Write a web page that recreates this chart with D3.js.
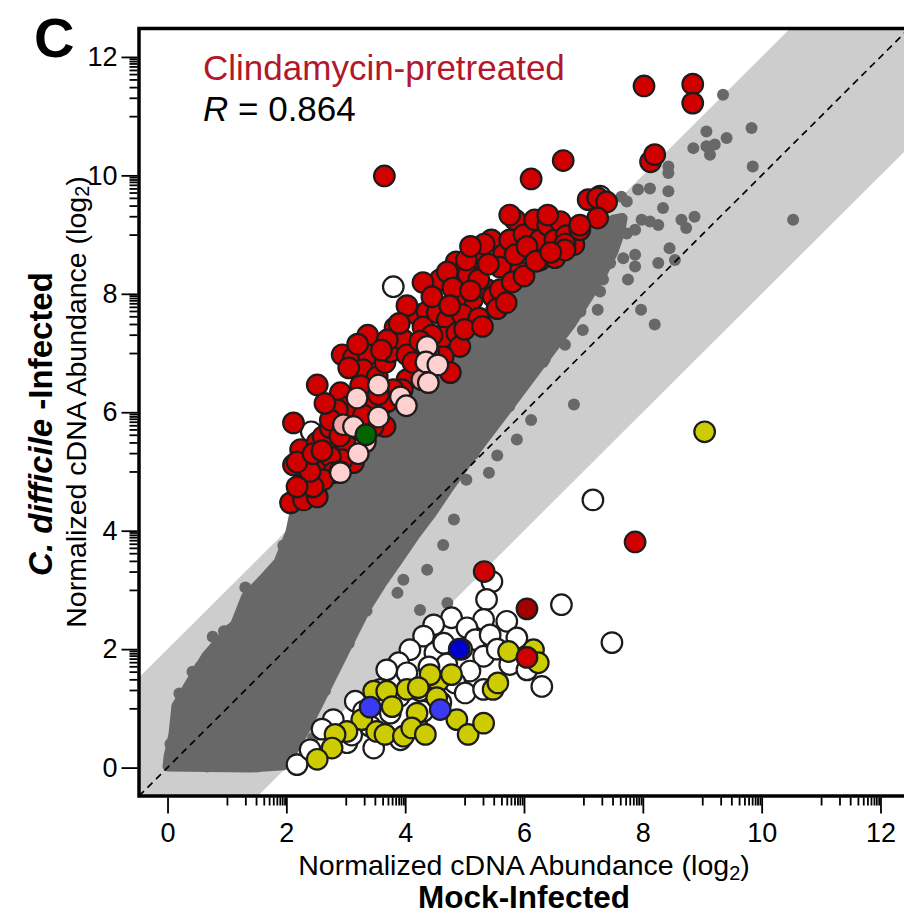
<!DOCTYPE html>
<html><head><meta charset="utf-8">
<script src="https://cdn.jsdelivr.net/npm/d3@7"></script>
<style>
body{margin:0;background:#fff;}
text{font-family:"Liberation Sans",Arial,Helvetica,sans-serif;}
</style></head>
<body><div id="chart"></div>
<script>
// ---------- DATA ----------
const majorTicks = [0, 2, 4, 6, 8, 10, 12];
const minorOffsets = [1, 1.31, 1.49, 1.62, 1.71, 1.78, 1.84, 1.89, 1.93, 1.97];
const rValue = "0.864";
const groupLabel = "Clindamycin-pretreated";
const bandHalfWidth = 2;

// outline of the dense grey cloud of genes (Mock, C. difficile)
const grayCloud = [
[0.0,0.02],[0.02,0.2],[0.1,0.56],[0.15,1.04],[0.4,1.46],[0.65,1.88],[0.87,2.13],[1.14,2.42],[1.32,2.88],[1.6,3.17],[1.87,3.47],[2.07,3.98],
[2.2,4.6],[2.6,4.95],[3.0,5.3],[3.4,5.75],[3.8,6.2],[4.2,6.6],[4.6,7.0],[5.0,7.35],[5.4,7.7],[5.8,8.1],[6.2,8.45],[6.6,8.75],[7.0,9.0],
[7.3,9.15],[7.5,9.25],[7.66,9.28],
[7.62,9.05],[7.5,8.7],[7.3,8.3],[7.05,7.9],[6.8,7.5],[6.5,7.1],[6.2,6.7],[5.9,6.3],[5.6,5.9],[5.3,5.5],[5.0,5.1],[4.72,4.7],[4.45,4.3],
[4.15,3.9],[3.88,3.5],[3.6,3.1],[3.35,2.7],[3.15,2.3],[2.95,1.9],[2.75,1.5],[2.55,1.1],[2.35,0.7],[2.12,0.3],[1.96,0.04],[1.39,0.0]
];
const grayPoints = [
[9.35,11.36],[9.07,10.74],[9.83,10.8],[9.41,10.63],[8.85,10.46],[9.07,10.49],[9.21,10.52],[9.13,10.35],[9.85,10.15],[8.43,10.15],[8.43,10.04],
[7.92,9.76],[8.12,9.78],[8.43,9.73],[7.64,9.64],[7.73,9.56],[8.34,9.45],[8.87,9.3],[8.65,9.25],[8.73,9.11],[7.98,9.25],[8.12,9.22],[8.26,9.16],
[7.87,9.08],[7.73,9.02],[10.53,9.25],[7.45,8.97],[8.45,8.77],[8.54,8.57],[8.26,8.52],[7.87,8.66],[7.87,8.46],[7.67,8.6],[7.16,8.63],[7.45,8.52],
[7.75,8.24],[7.33,8.24],[7.28,8.04],[6.72,8.12],[6.89,8.52],[8.2,7.48],[7.97,7.73],[6.32,6.85],[6.69,7.14],[6.99,7.39],[7.24,7.73],[6.84,6.13],
[6.12,5.87],[5.88,5.54],[5.55,5.27],[5.41,4.98],[5.03,4.86],[4.82,4.19],[4.64,3.76],[7.03,8.49],[6.47,7.9],[6.27,7.56],[5.93,7.22],
[1.31,3.04],[1.68,3.12],[1.06,2.33],[1.23,2.38],[0.76,2.21],[0.42,1.62],[0.17,1.03],[1.51,0.02],[0.67,0.02],
[2.3,0.8],[2.6,1.35],[2.85,1.8],[3.1,2.25],[3.35,2.65],[3.55,3.1],[3.8,3.5],[4.05,3.95],[4.35,4.35],[4.6,4.7],[4.95,5.3],
[4.37,3.34],[4.71,2.78],[3.97,3.17],[4.25,2.66],[3.87,2.95],
[0.05,0.4],[0.2,1.25],[0.55,1.7],[0.95,2.3],[1.45,3.0],[1.75,3.3],[1.95,3.75],
[2.45,0.5],[2.65,1.3],[3.05,2.1],[3.45,2.9],[3.95,3.7],[4.55,4.5],[5.15,5.3],[5.75,6.1],[6.35,6.9],[6.95,7.7],[7.4,8.5]
];
const redPoints = [
[2.07,4.47],[2.29,4.52],[2.52,4.57],[2.57,4.83],[2.35,4.86],[2.12,5.11],[2.32,5.06],[2.24,5.37],[2.52,5.16],[2.69,5.15],[2.79,5.33],[2.52,5.49],
[2.62,5.59],[2.74,5.74],[2.12,5.82],[2.52,6.46],[2.94,6.97],[3.37,7.3],[3.83,7.43],[4.2,7.65],[4.37,7.7],[3.13,6.92],[3.38,6.97],[3.29,6.72],
[3.53,6.6],[2.91,6.33],[3.04,6.09],[2.86,6.04],[2.74,5.87],[3.66,6.84],[3.75,7.02],[3.97,7.22],[3.7,7.22],[4.03,6.97],[4.2,6.72],[4.03,6.55],
[3.95,6.38],[3.8,6.38],[3.7,6.18],[3.41,6.09],[3.66,5.76],[3.46,5.76],[3.21,5.65],[3.03,5.59],[3.03,5.42],[3.13,5.15],[2.94,5.2],[2.74,5.25],
[2.79,4.98],[2.62,4.86],[2.45,4.74],[2.4,5.0],[2.18,5.16],[2.18,4.74],
[4.3,7.44],[4.54,7.68],[4.71,7.56],[4.64,7.27],[4.87,7.34],[4.92,7.11],[4.64,6.94],[4.76,6.67],[4.13,6.84],
[4.59,8.24],[4.86,8.54],[5.06,8.32],[5.23,8.61],[5.45,8.91],[5.65,8.66],[5.76,8.91],[5.85,9.25],[6.0,9.0],[6.18,9.25],[6.27,8.91],[6.4,9.16],
[6.52,8.91],[6.61,9.22],[6.71,8.98],[6.84,8.83],[6.94,9.08],[7.08,9.59],[7.24,9.62],[7.39,9.55],[7.24,9.28],[6.94,9.16],[6.69,8.84],
[5.13,7.9],[5.38,8.07],[4.84,7.9],[4.96,7.65],[5.48,7.95],[5.24,7.59],[5.6,8.07],[5.93,8.37],[6.27,8.57],[6.52,8.61],[6.69,8.74],[5.33,8.84],
[5.76,9.33],[6.4,9.33],[4.3,8.19],[4.03,7.8],[5.03,8.57],[4.71,8.37],[5.24,8.24],[5.6,8.45],[5.85,8.66],[6.05,8.8],[5.4,8.5],[4.45,7.95],
[4.8,8.1],[5.1,8.05],[4.45,7.3],[4.75,7.8],[5.0,7.4],[5.3,7.45],[5.55,7.75],[5.8,8.2],[6.0,8.3],[6.2,8.55],[6.45,8.7],[5.7,7.85],[4.25,7.2],
[4.4,7.0],[3.6,7.05],[3.2,7.15],[3.05,6.75],[3.25,6.45],[3.55,6.3],[2.65,6.15],[2.45,5.3],[2.6,5.35],[2.9,5.6],[3.3,5.95],[2.9,5.0],[3.9,7.5],[5.1,8.8],
[8.02,11.51],[8.84,11.54],[8.84,11.22],[3.65,9.99],[8.13,10.23],[8.2,10.35],[6.66,10.25],[6.12,9.94],[5.33,3.31],[7.87,3.81],[6.05,1.86]
];
const pinkPoints = [[4.37,7.11],[4.35,6.85],[4.55,6.8],[4.39,6.5],[3.55,6.46],[3.19,6.24],[3.92,6.26],[4.02,6.11],[3.55,5.92],[3.13,5.76],[3.33,5.5],[3.21,5.3],[2.91,4.98]];
const salmonPoints = [[2.96,5.79],[4.28,6.55]];
const greenPoints = [[3.34,5.62]];
const darkRedPoints = [[6.05,2.68]];
const whitePoints = [
[7.28,9.65],[3.8,8.12],[2.42,5.67],[7.16,4.52],[7.48,2.11],[6.63,2.75],
[5.46,3.14],[5.37,2.84],[4.78,2.53],[4.48,2.41],[4.31,2.22],[5.32,2.5],[5.71,2.47],[5.04,2.36],[5.18,2.16],[5.43,2.24],[5.88,2.19],[4.5,1.94],
[4.08,1.99],[3.89,1.77],[4.03,1.6],[3.69,1.65],[5.32,1.88],[5.76,1.74],[5.09,1.63],[4.84,1.43],[5.01,1.26],[5.32,1.32],[6.3,1.37],[6.05,1.65],
[3.58,1.32],[3.16,1.12],[2.79,0.81],[3.02,0.42],[3.47,0.33],[3.92,0.47],[2.18,0.05],[2.4,0.3],[4.2,0.7],[3.75,0.92],[3.41,0.7],
[4.65,2.1],[4.95,2.0],[4.7,1.75],[4.4,1.7],[5.55,2.0],[4.25,1.3],[3.9,1.2],[4.6,1.1],[3.3,0.95],[3.1,0.55],[2.6,0.65],[4.3,0.95]
];
const yellowPoints = [
[5.74,1.96],[6.16,1.99],[6.24,1.77],[5.48,1.32],[5.56,1.43],[4.56,1.46],[4.42,1.57],[4.78,1.57],[4.03,1.32],[4.22,1.35],[3.47,1.29],[3.69,1.29],
[3.78,1.03],[4.2,0.92],[4.53,1.18],[3.27,0.81],[3.02,0.61],[2.82,0.56],[2.77,0.33],[2.52,0.14],[3.52,0.61],[3.66,0.56],[3.97,0.53],[4.11,0.67],
[4.34,0.56],[4.87,0.81],[5.06,0.56],[5.32,0.75],[9.04,5.67]
];
const bluePoints = [[4.91,2.0]];
const lightBluePoints = [[3.41,1.02],[4.59,0.98]];

// ---------- CHART ----------
const W = 904, H = 914;
const lo = -0.48, hi = 12.48;
const x = d3.scaleLinear().domain([lo, hi]).range([139, 909]);
const y = d3.scaleLinear().domain([lo, hi]).range([796, 28.5]);

const svg = d3.select("#chart").append("svg").attr("width", W).attr("height", H)
  .style("background", "#fff");

svg.append("defs").append("clipPath").attr("id", "plotclip")
  .append("rect").attr("x", x(lo)).attr("y", y(hi)).attr("width", x(hi) - x(lo)).attr("height", y(lo) - y(hi));

const plot = svg.append("g").attr("clip-path", "url(#plotclip)");

// grey +/- band
const band = [[lo, lo + bandHalfWidth], [hi - bandHalfWidth, hi], [hi, hi], [hi, hi - bandHalfWidth], [lo + bandHalfWidth, lo], [lo, lo]];
const line = d3.line().x(d => x(d[0])).y(d => y(d[1]));
plot.append("path").attr("d", line(band) + "Z").attr("fill", "#cdcdcd");

// dense grey cloud
const grey = "#686868";
plot.append("path").attr("d", line(grayCloud) + "Z").attr("fill", grey)
  .attr("stroke", grey).attr("stroke-width", 10).attr("stroke-linejoin", "round");
plot.selectAll("circle.g").data(grayPoints).join("circle").attr("class", "g")
  .attr("cx", d => x(d[0])).attr("cy", d => y(d[1])).attr("r", 6).attr("fill", grey);

// diagonal
plot.append("path").attr("d", line([[lo, lo], [hi, hi]]))
  .attr("stroke", "#000").attr("stroke-width", 1.7).attr("stroke-dasharray", "7,5").attr("fill", "none");

function dots(data, fill) {
  plot.append("g").selectAll("circle").data(data).join("circle")
    .attr("cx", d => x(d[0])).attr("cy", d => y(d[1])).attr("r", 10.3)
    .attr("fill", fill).attr("stroke", "#1c1c1c").attr("stroke-width", 2.2);
}
dots(whitePoints, "#ffffff");
dots(yellowPoints, "#cccc00");
dots(redPoints, "#d10000");
dots(darkRedPoints, "#a30000");
dots(salmonPoints, "#f4a3a3");
dots(pinkPoints, "#ffd0d0");
dots(greenPoints, "#006400");
dots(bluePoints, "#0000cc");
dots(lightBluePoints, "#3a3af2");

// frame
svg.append("rect").attr("x", x(lo)).attr("y", y(hi)).attr("width", x(hi) - x(lo)).attr("height", y(lo) - y(hi))
  .attr("fill", "none").attr("stroke", "#000").attr("stroke-width", 3.5);

// axes
const minorVals = [];
majorTicks.slice(0, -1).forEach(t => minorOffsets.forEach(o => minorVals.push(t + o)));

function styleAxis(g) {
  g.select(".domain").remove();
  g.selectAll("line").attr("stroke", "#000").attr("stroke-width", 1.8);
  g.selectAll("text").attr("font-size", 27).attr("fill", "#000")
    .style("font-family", '"Liberation Sans",Arial,Helvetica,sans-serif');
}
const xAxisY = 797.5, yAxisX = 137.5;
svg.append("g").attr("transform", `translate(0,${xAxisY})`)
  .call(d3.axisBottom(x).tickValues(majorTicks).tickSize(16).tickPadding(9).tickFormat(d3.format("d"))).call(styleAxis);
svg.append("g").attr("transform", `translate(0,${xAxisY})`)
  .call(d3.axisBottom(x).tickValues(minorVals).tickSize(8).tickFormat("")).call(styleAxis);
svg.append("g").attr("transform", `translate(${yAxisX},0)`)
  .call(d3.axisLeft(y).tickValues(majorTicks).tickSize(16).tickPadding(4).tickFormat(d3.format("d"))).call(styleAxis);
svg.append("g").attr("transform", `translate(${yAxisX},0)`)
  .call(d3.axisLeft(y).tickValues(minorVals).tickSize(8).tickFormat("")).call(styleAxis);

// titles
const xt = svg.append("text").attr("x", x(6)).attr("y", 875).attr("text-anchor", "middle").attr("font-size", 28.5);
xt.append("tspan").text("Normalized cDNA Abundance (log");
xt.append("tspan").attr("dy", 5).attr("font-size", "70%").text("2");
xt.append("tspan").attr("dy", -5).text(")");
svg.append("text").attr("x", x(6)).attr("y", 908).attr("text-anchor", "middle")
  .attr("font-size", 31.5).attr("font-weight", "bold").text("Mock-Infected");

const yt = svg.append("text").attr("transform", `translate(86,402) rotate(-90)`).attr("text-anchor", "middle").attr("font-size", 28.5);
yt.append("tspan").text("Normalized cDNA Abundance (log");
yt.append("tspan").attr("dy", 3).attr("font-size", "70%").text("2");
yt.append("tspan").attr("dy", -3).text(")");
const yb = svg.append("text").attr("transform", `translate(52,424) rotate(-90)`).attr("text-anchor", "middle")
  .attr("font-size", 33).attr("font-weight", "bold");
yb.append("tspan").attr("font-style", "italic").text("C. difficile");
yb.append("tspan").text(" -Infected");

// panel letter & annotations
svg.append("text").attr("x", 34).attr("y", 57).attr("font-size", 56).attr("font-weight", "bold").text("C");
svg.append("text").attr("x", 203).attr("y", 80).attr("font-size", 35).attr("fill", "#b2182b").text(groupLabel);
const rt = svg.append("text").attr("x", 203).attr("y", 121).attr("font-size", 35).attr("fill", "#000");
rt.append("tspan").attr("font-style", "italic").text("R");
rt.append("tspan").text(" = " + rValue);
</script></body></html>
